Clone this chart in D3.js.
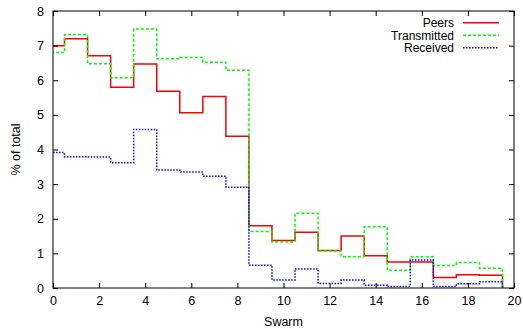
<!DOCTYPE html>
<html>
<head>
<meta charset="utf-8">
<script src="https://cdn.jsdelivr.net/npm/d3@7"></script>
<style>
  body { margin: 0; background: #fff; }
  text { font-family: "Liberation Sans", Arial, sans-serif; fill: #000; }
</style>
</head>
<body>
<div id="chart"></div>
<script>
// swarm index 0..19, values in % of total
const swarms = d3.range(0, 20);
const peers = [7.0, 7.2, 6.71, 5.8, 6.47, 5.68, 5.06, 5.53, 4.38, 1.8, 1.37, 1.61, 1.08, 1.5, 0.93, 0.75, 0.75, 0.3, 0.38, 0.37];
const transmitted = [6.8, 7.32, 6.48, 6.07, 7.48, 6.62, 6.66, 6.52, 6.29, 1.63, 1.33, 2.16, 1.07, 0.9, 1.77, 0.51, 0.9, 0.65, 0.74, 0.57];
const received = [3.91, 3.79, 3.78, 3.62, 4.58, 3.41, 3.35, 3.23, 2.91, 0.66, 0.23, 0.55, 0.13, 0.23, 0.08, 0.04, 0.81, 0.04, 0.12, 0.18];
const xTicks = [0, 2, 4, 6, 8, 10, 12, 14, 16, 18, 20];
const yTicks = [0, 1, 2, 3, 4, 5, 6, 7, 8];

const series = [
  { name: 'Peers', values: peers, color: '#ff0000', dash: null },
  { name: 'Transmitted', values: transmitted, color: '#00ff00', dash: '3,2' },
  { name: 'Received', values: received, color: '#0000ff', dash: '1.5,1.5' }
];

const W = 523, H = 329;
const margin = { top: 11, right: 9, bottom: 41, left: 53 };
const width = W - margin.left - margin.right;
const height = H - margin.top - margin.bottom;

const svg = d3.select('#chart').append('svg')
  .attr('width', W).attr('height', H);

const g = svg.append('g').attr('transform', `translate(${margin.left},${margin.top})`);

const x = d3.scaleLinear().domain([0, 20]).range([0, width]);
const y = d3.scaleLinear().domain([0, 8]).range([height, 0]);

svg.append('defs').append('clipPath').attr('id', 'clip')
  .append('rect').attr('width', width).attr('height', height);

// histeps: each value spans i-0.5 .. i+0.5, ends drop to zero
function histeps(vals) {
  const pts = [[swarms[0] - 0.5, 0]];
  vals.forEach((v, i) => {
    pts.push([swarms[i] - 0.5, v]);
    pts.push([swarms[i] + 0.5, v]);
  });
  pts.push([swarms[swarms.length - 1] + 0.5, 0]);
  return pts;
}

const line = d3.line().x(d => x(d[0])).y(d => y(d[1]));

const plot = g.append('g').attr('clip-path', 'url(#clip)');
series.forEach(s => {
  plot.append('path')
    .attr('d', line(histeps(s.values)))
    .attr('fill', 'none')
    .attr('stroke', s.color)
    .attr('stroke-width', 1.5)
    .attr('stroke-dasharray', s.dash);
});

// axes with inward ticks, mirrored
const tickLen = 5;
g.append('g').attr('transform', `translate(0,${height})`)
  .call(d3.axisBottom(x).tickValues(xTicks).tickSizeInner(-tickLen).tickSizeOuter(0).tickPadding(8))
  .call(a => a.select('.domain').remove());
g.append('g')
  .call(d3.axisTop(x).tickValues(xTicks).tickSizeInner(-tickLen).tickSizeOuter(0).tickFormat(''))
  .call(a => a.select('.domain').remove());
g.append('g')
  .call(d3.axisLeft(y).tickValues(yTicks).tickSizeInner(-tickLen).tickSizeOuter(0).tickPadding(9))
  .call(a => a.select('.domain').remove());
g.append('g').attr('transform', `translate(${width},0)`)
  .call(d3.axisRight(y).tickValues(yTicks).tickSizeInner(-tickLen).tickSizeOuter(0).tickFormat(''))
  .call(a => a.select('.domain').remove());

g.selectAll('.tick line').attr('stroke', '#000');
g.selectAll('.tick text').attr('font-size', 12.5).attr('font-family', '"Liberation Sans", Arial, sans-serif');

// border around the plot area
g.append('rect')
  .attr('width', width).attr('height', height)
  .attr('fill', 'none').attr('stroke', '#000').attr('stroke-width', 1);

// axis labels
g.append('text')
  .attr('x', width / 2).attr('y', height + 38)
  .attr('text-anchor', 'middle').attr('font-size', 12.5)
  .text('Swarm');
g.append('text')
  .attr('transform', 'rotate(-90)')
  .attr('x', -height / 2).attr('y', -33)
  .attr('text-anchor', 'middle').attr('font-size', 12.5)
  .text('% of total');

// legend
const legend = g.append('g');
series.forEach((s, i) => {
  const ly = 11.8 + i * 12.5;
  legend.append('text')
    .attr('x', 401).attr('y', ly).attr('dy', '0.35em')
    .attr('text-anchor', 'end').attr('font-size', 12)
    .text(s.name);
  legend.append('line')
    .attr('x1', 410).attr('x2', 446).attr('y1', ly).attr('y2', ly)
    .attr('stroke', s.color).attr('stroke-width', 1.5)
    .attr('stroke-dasharray', s.dash);
});
</script>
</body>
</html>
